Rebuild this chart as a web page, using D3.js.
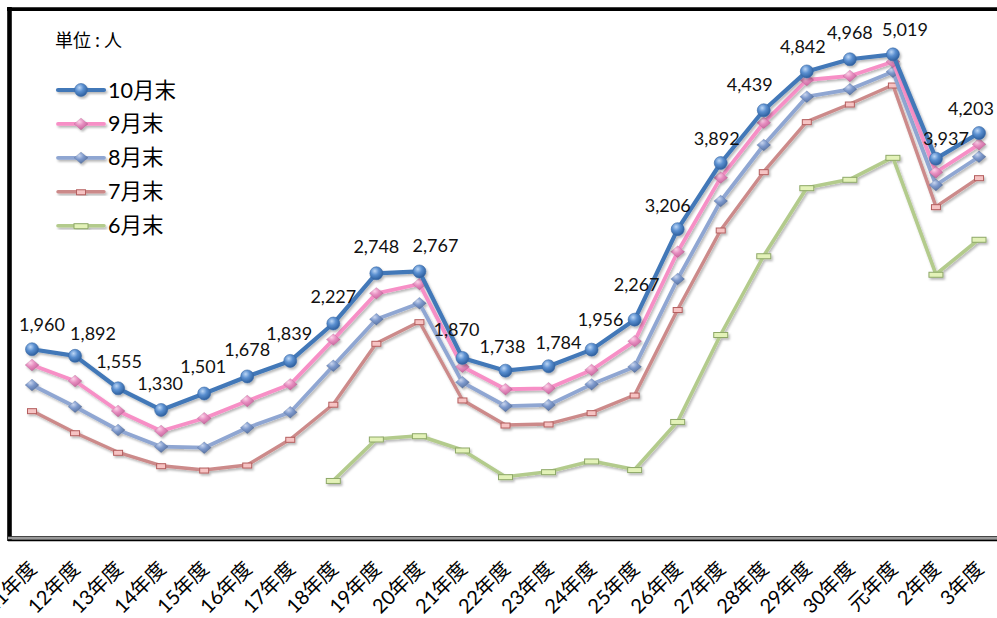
<!DOCTYPE html>
<html><head><meta charset="utf-8">
<script src="https://cdn.jsdelivr.net/npm/d3@7/dist/d3.min.js"></script>
<style>
html,body{margin:0;padding:0;background:#fff;overflow:hidden;}
svg{display:block;}
</style></head>
<body>
<svg id="c" width="997" height="618"></svg>
<script>
const categories = ["11年度","12年度","13年度","14年度","15年度","16年度","17年度","18年度","19年度","20年度","21年度","22年度","23年度","24年度","25年度","26年度","27年度","28年度","29年度","30年度","元年度","2年度","3年度"];
const oct = [1960,1892,1555,1330,1501,1678,1839,2227,2748,2767,1870,1738,1784,1956,2267,3206,3892,4439,4842,4968,5019,3937,4203];
const sep = [1797,1631,1320,1112,1244,1423,1596,2060,2540,2637,1779,1545,1555,1745,2044,2972,3740,4310,4753,4795,4943,3796,4086];
const aug = [1589,1364,1122,949,939,1146,1306,1789,2271,2437,1617,1371,1382,1596,1779,2689,3498,4079,4580,4657,4839,3664,3957];
const jul = [1323,1094,891,752,707,759,1026,1390,2022,2246,1434,1174,1185,1302,1485,2372,3197,3802,4321,4504,4701,3439,3740];
const jun = [null,null,null,null,null,null,null,599,1029,1063,915,638,690,801,712,1211,2113,2930,3636,3723,3951,2738,3101];
const seriesNames = ["10月末","9月末","8月末","7月末","6月末"];
const unitLabel = "単位 : 人";
// label nudges (layout only)
const labelDx = [10,18,1,-1,-1,0,-1,0,0,16,-6,-3,10,9,2,-10,-4,-14,-4,0,12,10,-8];
const labelDy = [18,16,20,20,21,20,21,21,20,19,22,18,17,24,29,17,18,19,18,20,18,14,18];

const svg = d3.select("#c");
const defs = svg.append("defs");
const fmt = d3.format(",");

const x = d3.scalePoint().domain(categories).range([32, 979]);
const y = d3.scaleLinear().domain([0, 5500]).range([538.2, 8]);

const sh = defs.append("filter").attr("id","shadow").attr("x","-10%").attr("y","-10%").attr("width","130%").attr("height","130%");
sh.append("feDropShadow").attr("dx",1.5).attr("dy",2).attr("stdDeviation",1.3).attr("flood-color","#000").attr("flood-opacity",0.28);

function radial(id, c0, c1, c2){
  const g = defs.append("radialGradient").attr("id",id).attr("cx","38%").attr("cy","32%").attr("r","70%");
  g.append("stop").attr("offset","0%").attr("stop-color",c0);
  g.append("stop").attr("offset","45%").attr("stop-color",c1);
  g.append("stop").attr("offset","100%").attr("stop-color",c2);
}
radial("gBlue","#bcd6f5","#5a8fd0","#2b5d9c");
radial("gPink","#fbd2e8","#e68cbf","#c4649a");
radial("gLav","#c9d5ee","#7c98cb","#56709f");

const series = [
  {name:seriesNames[4], data:jun, color:"#b3cb8c", width:3.6, marker:"rect", mw:14, mh:5, fill:"#e3f2b8", mstroke:"#8ea868"},
  {name:seriesNames[3], data:jul, color:"#cc8a8a", width:3.4, marker:"rect", mw:9, mh:5, fill:"#f6c3c3", mstroke:"#b45e5e"},
  {name:seriesNames[2], data:aug, color:"#8fa6d2", width:3.8, marker:"diamond", ms:7, fill:"url(#gLav)"},
  {name:seriesNames[1], data:sep, color:"#f78fc6", width:3.8, marker:"diamond", ms:7, fill:"url(#gPink)"},
  {name:seriesNames[0], data:oct, color:"#4378b8", width:4.2, marker:"circle", ms:6.5, fill:"url(#gBlue)"}
];

// frame
svg.append("line").attr("x1",9.5).attr("x2",9.5).attr("y1",7).attr("y2",541).attr("stroke","#000").attr("stroke-width",4.6);
svg.append("line").attr("x1",7).attr("x2",997).attr("y1",9.2).attr("y2",9.2).attr("stroke","#000").attr("stroke-width",3.8);
svg.append("line").attr("x1",8).attr("x2",997).attr("y1",536.6).attr("y2",536.6).attr("stroke","#333").attr("stroke-width",1);
svg.append("line").attr("x1",8).attr("x2",997).attr("y1",538.3).attr("y2",538.3).attr("stroke","#9a9a9a").attr("stroke-width",2.6);
svg.append("line").attr("x1",8).attr("x2",997).attr("y1",540.4).attr("y2",540.4).attr("stroke","#000").attr("stroke-width",1.8);

function drawMarker(g, s, cx, cy){
  if (s.marker === "circle") {
    g.append("circle").attr("cx",cx).attr("cy",cy).attr("r",s.ms).attr("fill",s.fill).attr("stroke","#3a6aa6").attr("stroke-width",0.6);
  } else if (s.marker === "diamond") {
    const r = s.ms;
    g.append("path").attr("d",`M${cx},${cy-r*0.85}L${cx+r},${cy}L${cx},${cy+r*0.85}L${cx-r},${cy}Z`).attr("fill",s.fill).attr("stroke","rgba(0,0,0,0.15)").attr("stroke-width",0.5);
  } else {
    g.append("rect").attr("x",cx-s.mw/2).attr("y",cy-s.mh/2+0.5).attr("width",s.mw).attr("height",s.mh).attr("fill",s.fill).attr("stroke",s.mstroke).attr("stroke-width",1);
  }
}

const plot = svg.append("g");
series.forEach(s => {
  const line = d3.line().defined(d => d != null).x((d,i) => x(categories[i])).y(d => y(d));
  const g = plot.append("g").attr("filter","url(#shadow)");
  g.append("path").datum(s.data).attr("d",line).attr("fill","none").attr("stroke",s.color).attr("stroke-width",s.width).attr("stroke-linejoin","round").attr("stroke-linecap","round");
  s.data.forEach((d,i) => { if (d != null) drawMarker(g, s, x(categories[i]), y(d)); });
});

// data labels for 10月末
svg.append("g").selectAll("text").data(oct).join("text")
  .attr("x",(d,i) => x(categories[i]) + labelDx[i])
  .attr("y",(d,i) => y(d) - labelDy[i])
  .attr("text-anchor","middle")
  .attr("font-family","Lato, 'Noto Sans CJK JP', sans-serif")
  .attr("font-size",18)
  .attr("fill","#111")
  .text(d => fmt(d));

// x axis labels
svg.append("g").selectAll("text").data(categories).join("text")
  .attr("transform", d => `translate(${x(d)+6},570) rotate(-45)`)
  .attr("text-anchor","end")
  .attr("font-family","Lato, 'Noto Sans CJK JP', sans-serif")
  .attr("font-size",20)
  .attr("fill","#000")
  .text(d => d);

// unit
svg.append("text").attr("x",55).attr("y",47).attr("font-family","'Noto Sans CJK JP', sans-serif").attr("font-size",18).attr("fill","#000").text(unitLabel);

// legend
const legendOrder = [series[4],series[3],series[2],series[1],series[0]];
const legY = d3.scalePoint().domain(seriesNames).range([90, 225.7]);
legendOrder.forEach(s => {
  const ly = legY(s.name);
  const g = svg.append("g").attr("filter","url(#shadow)");
  g.append("line").attr("x1",58).attr("x2",104).attr("y1",ly).attr("y2",ly).attr("stroke",s.color).attr("stroke-width",s.width).attr("stroke-linecap","round");
  drawMarker(g, s, 81, ly);
  svg.append("text").attr("x",108).attr("y",ly+7.5).attr("font-family","Lato, 'Noto Sans CJK JP', sans-serif").attr("font-size",21.5).attr("fill","#000").text(s.name);
});
</script>
</body></html>
